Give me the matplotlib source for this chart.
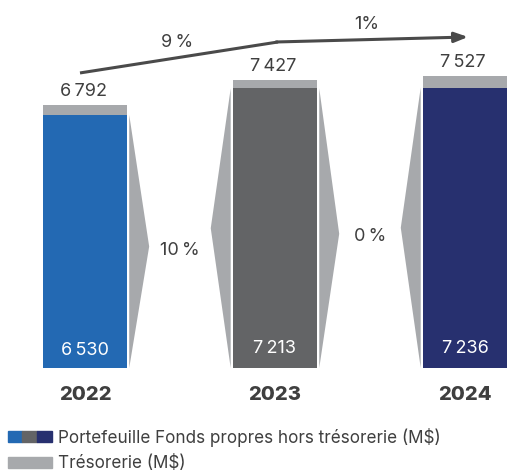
import matplotlib.pyplot as plt
from matplotlib.patches import Polygon, Patch
from matplotlib.legend_handler import HandlerTuple

years = ['2022', '2023', '2024']
portefeuille = [6530, 7213, 7236]
tresorerie = [262, 214, 291]
totals = [6792, 7427, 7527]
growth_total = ['9\u202f%', '1%']
growth_port = ['10\u202f%', '0\u202f%']

bar_colors = ['#2369b3', '#636466', '#27306f']
cash_color = '#a7a9ac'
text_color = '#3f3f3f'

plt.rcParams['font.family'] = ['Inter', 'DejaVu Sans']


def fmt(v):
    return f"{v:,}".replace(',', '\u202f')


fig = plt.figure(figsize=(5.07, 4.75), dpi=100)
ax = fig.add_axes([0, 0, 1, 1])
ax.set_xlim(-0.447, 2.221)
ax.set_ylim(-2760, 9494)
ax.axis('off')

x = range(len(years))
w = 0.442
ax.bar(x, portefeuille, width=w, color=bar_colors)
ax.bar(x, tresorerie, width=w, bottom=portefeuille, color=cash_color)

for i in x:
    ax.text(i, portefeuille[i] * 0.07, fmt(portefeuille[i]),
            ha='center', va='center', color='white', fontsize=13)
    ax.text(i - 0.01, totals[i] + 130, fmt(totals[i]),
            ha='center', va='bottom', color=text_color, fontsize=13)
    ax.text(i, -700, years[i], ha='center', va='center', color=text_color,
            fontsize=14.5, fontweight='heavy')

# chevrons between bars
gap = 0.012
depth = 0.105
for i in range(len(years) - 1):
    h0 = portefeuille[i]
    xb = i + w / 2 + gap
    ax.add_patch(Polygon([(xb, 0), (xb, h0), (xb + depth, h0 * 0.48)],
                         closed=True, color=cash_color, lw=0))
    h1 = portefeuille[i + 1]
    xb = i + 1 - w / 2 - gap
    ax.add_patch(Polygon([(xb, 0), (xb, h1), (xb - depth, h1 * 0.5)],
                         closed=True, color=cash_color, lw=0))
    ax.text(i + 0.5, h0 * 0.48 - 100 if i == 0 else h1 * 0.47, growth_port[i],
            ha='center', va='center', color=text_color, fontsize=13)

# trend arrow on totals
offsets = [820, 984, 1013]
px = [-0.026, 1.016, 2.016]
py = [totals[i] + offsets[i] for i in x]
ax.plot(px[:2], py[:2], color='#4a4a4a', lw=2.2, solid_capstyle='butt')
ax.annotate('', xy=(px[2], py[2]), xytext=(px[1] - 0.01, py[1]),
            arrowprops=dict(arrowstyle='-|>,head_length=0.8,head_width=0.3',
                            color='#4a4a4a', lw=2.2, shrinkA=0, shrinkB=0))
ax.text(0.485, 8390, growth_total[0], ha='center', va='center',
        color=text_color, fontsize=13)
ax.text(1.485, 8850, growth_total[1], ha='center', va='center',
        color=text_color, fontsize=13)

handles = [tuple(Patch(color=c) for c in bar_colors), Patch(color=cash_color)]
labels = ['Portefeuille Fonds propres hors trésorerie (M$)', 'Trésorerie (M$)']
fig.legend(handles, labels, handler_map={tuple: HandlerTuple(ndivide=None, pad=0)},
           loc='lower left', bbox_to_anchor=(-0.002, -0.012), frameon=False,
           fontsize=12.3, labelcolor=text_color, handlelength=2.6,
           handleheight=0.6, handletextpad=0.35, labelspacing=0.5,
           borderaxespad=0.2, borderpad=0.3)

fig.savefig('out.png', dpi=100)
